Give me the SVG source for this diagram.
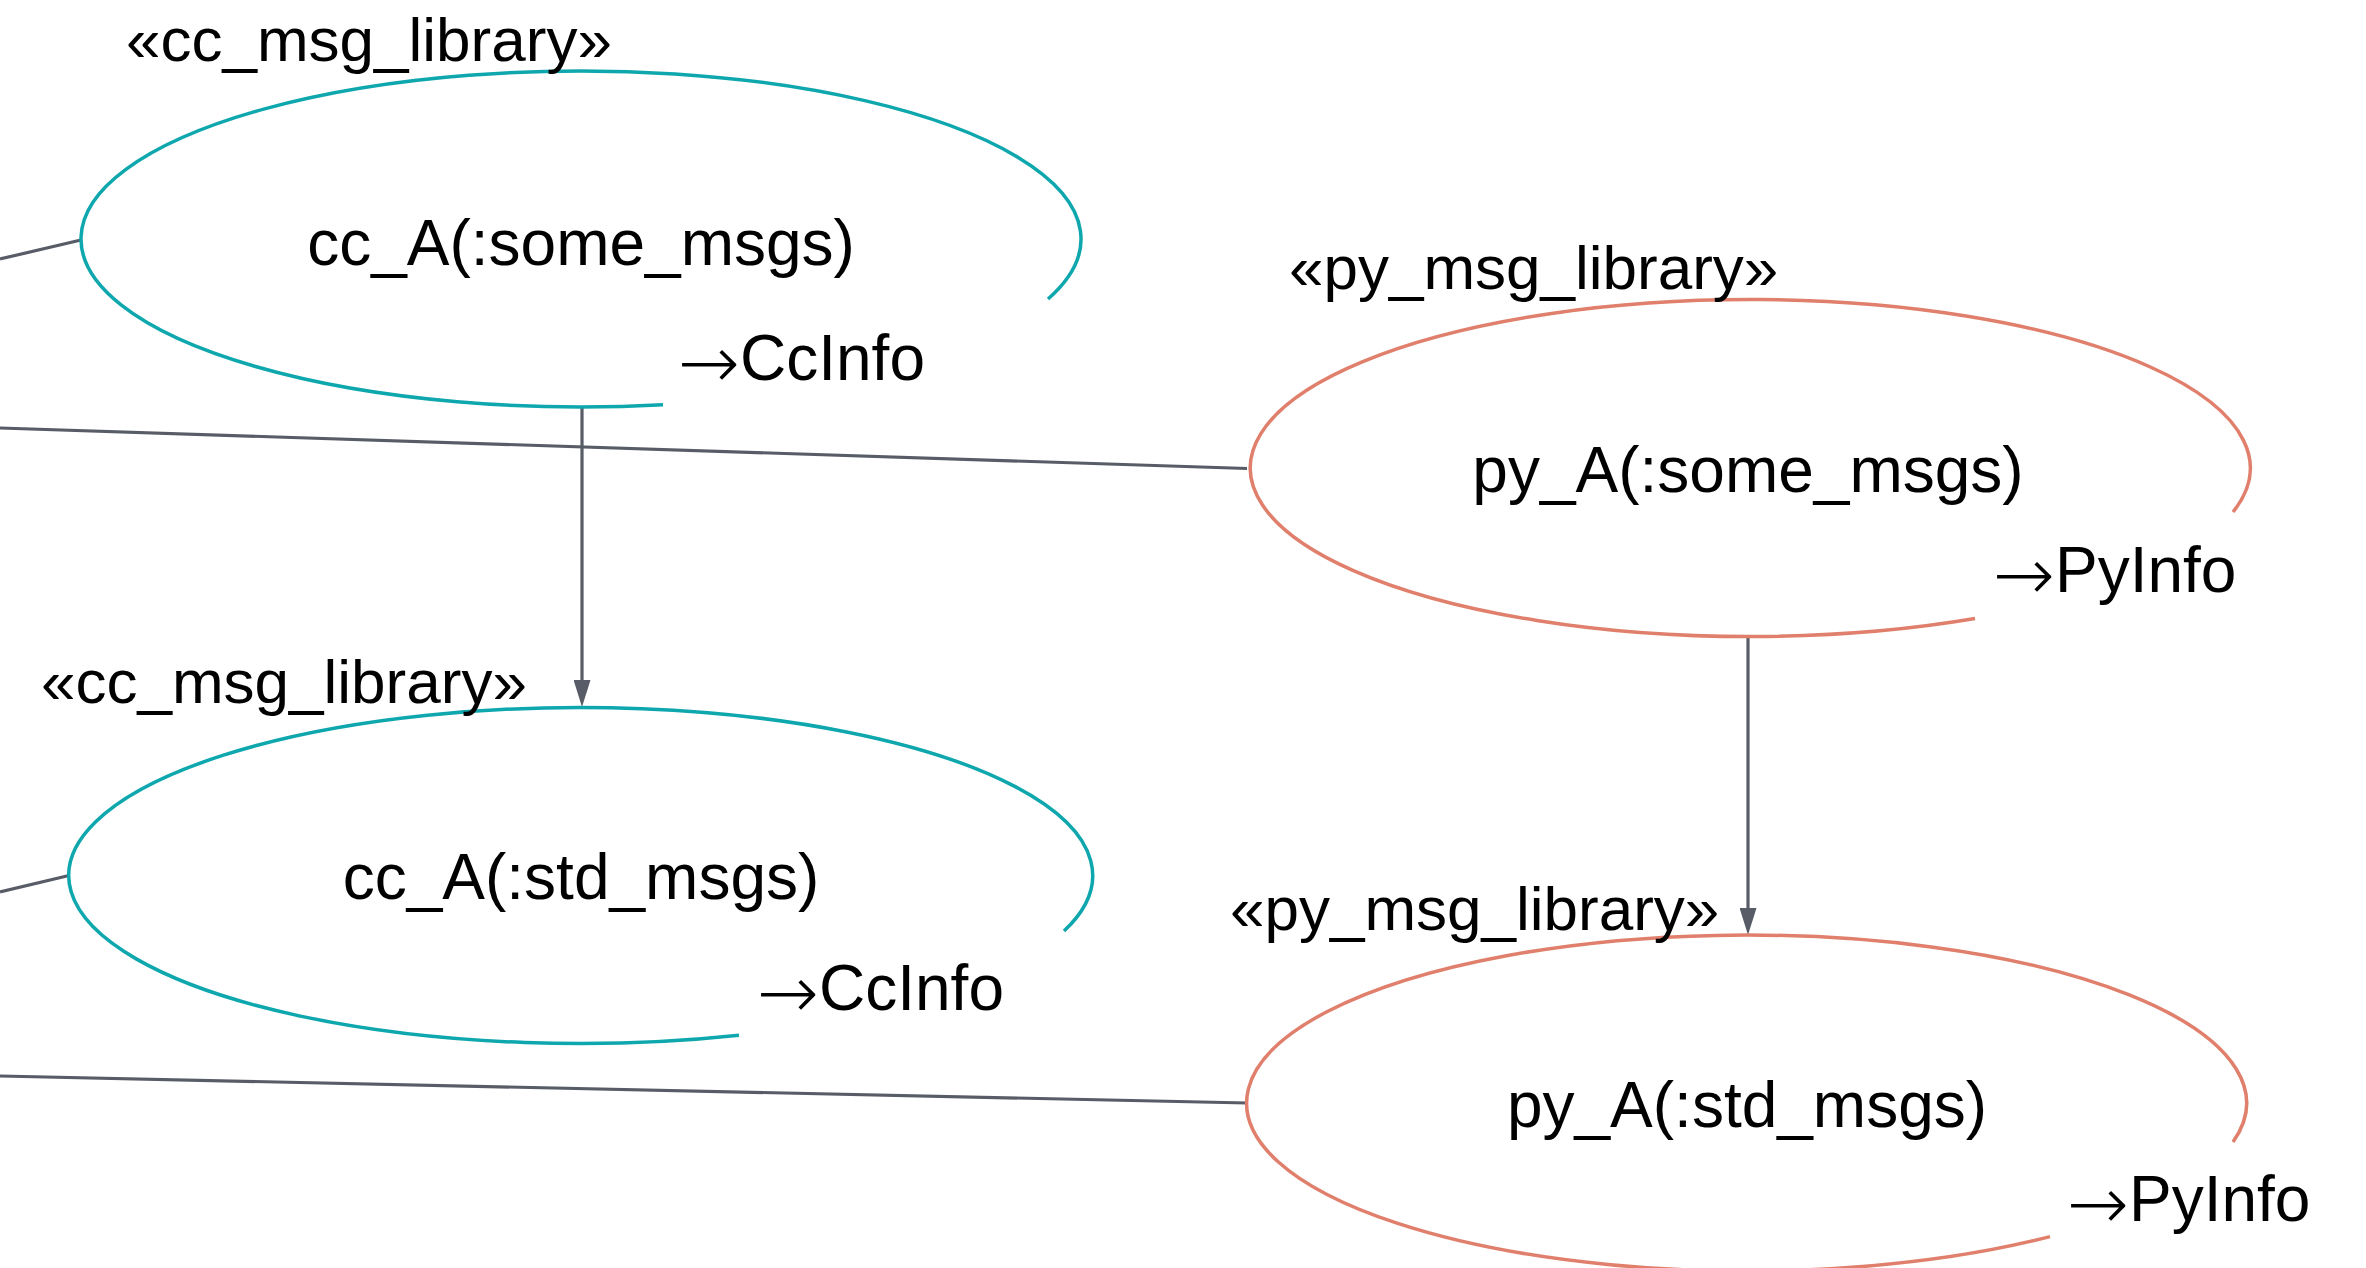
<svg xmlns="http://www.w3.org/2000/svg" width="2366" height="1268" viewBox="0 0 2366 1268">
  <defs>
    <marker id="arrow" viewBox="0 0 27 17" refX="0" refY="8.5" markerWidth="27" markerHeight="17" markerUnits="userSpaceOnUse" orient="auto">
      <path d="M0,0 L27,8.5 L0,17 Z" fill="#575c66"/>
    </marker>
  </defs>
  <style>
    text { font-family: "Liberation Sans", Arial, Helvetica, sans-serif; fill: #000; }
    .name { font-size: 64px; text-anchor: middle; }
    .stereo { font-size: 62px; }
    .info { font-size: 64px; }
    .arr { font-family: "DejaVu Sans", sans-serif; font-weight: 200; font-size: 74px; }
    .cc { fill: none; stroke: #0fa7ae; stroke-width: 3.5; }
    .py { fill: none; stroke: #e07f6c; stroke-width: 3.5; }
    .edge { fill: none; stroke: #575c66; stroke-width: 3.2; }
  </style>
  <rect width="2366" height="1268" fill="#ffffff"/>

  <g id="connectors">
    <line class="edge" x1="0" y1="259" x2="81" y2="240"/>
    <line class="edge" x1="0" y1="428" x2="1247" y2="468.5"/>
    <line class="edge" x1="0" y1="892" x2="69" y2="875.5"/>
    <line class="edge" x1="0" y1="1076" x2="1247" y2="1103"/>
    <line class="edge" x1="582" y1="407" x2="582" y2="680" marker-end="url(#arrow)"/>
    <line class="edge" x1="1748" y1="637" x2="1748" y2="908" marker-end="url(#arrow)"/>
  </g>

  <!-- cc_A(:some_msgs) -->
  <g id="cc_A_some_msgs">
    <path class="cc" d="M663,404.7 A500,168 0 1 1 1048,299"/>
    <text class="stereo" x="126" y="61">«cc_msg_library»</text>
    <text class="name" x="581" y="265">cc_A(:some_msgs)</text>
    <text class="info" x="678" y="380"><tspan class="arr" dy="8">→</tspan><tspan dy="-8">CcInfo</tspan></text>
  </g>

  <!-- py_A(:some_msgs) -->
  <g id="py_A_some_msgs">
    <path class="py" d="M1975,618.6 A500,168.5 0 1 1 2233,512"/>
    <text class="stereo" x="1289" y="289">«py_msg_library»</text>
    <text class="name" x="1748" y="492">py_A(:some_msgs)</text>
    <text class="info" x="1993" y="592"><tspan class="arr" dy="8">→</tspan><tspan dy="-8">PyInfo</tspan></text>
  </g>

  <!-- cc_A(:std_msgs) -->
  <g id="cc_A_std_msgs">
    <path class="cc" d="M739,1035.3 A512,168 0 1 1 1064,931"/>
    <text class="stereo" x="41" y="703">«cc_msg_library»</text>
    <text class="name" x="581" y="899">cc_A(:std_msgs)</text>
    <text class="info" x="757" y="1010"><tspan class="arr" dy="8">→</tspan><tspan dy="-8">CcInfo</tspan></text>
  </g>

  <!-- py_A(:std_msgs) -->
  <g id="py_A_std_msgs">
    <path class="py" d="M2050,1236.6 A500,168 0 1 1 2233,1142"/>
    <text class="stereo" x="1230" y="930">«py_msg_library»</text>
    <text class="name" x="1747" y="1127">py_A(:std_msgs)</text>
    <text class="info" x="2067" y="1221"><tspan class="arr" dy="8">→</tspan><tspan dy="-8">PyInfo</tspan></text>
  </g>
</svg>
